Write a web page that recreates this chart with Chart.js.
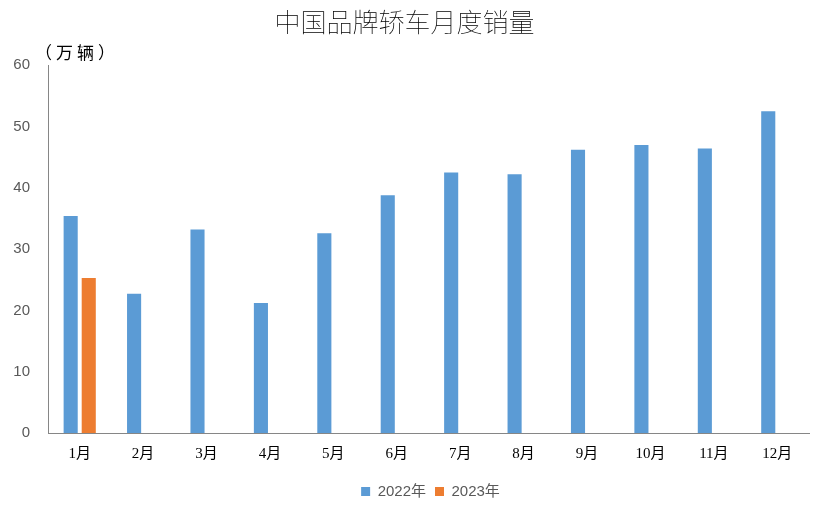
<!DOCTYPE html>
<html>
<head>
<meta charset="UTF-8">
<title>中国品牌轿车月度销量</title>
<script src="https://cdn.jsdelivr.net/npm/chart.js"></script>
<style>
  body { margin: 0; background: #fff; }
  #wrap { width: 826px; height: 507px; position: relative; }
</style>
</head>
<body>
<div id="wrap"><canvas id="salesChart"></canvas></div>
<script>
// data (万辆)
const months = ['1月', '2月', '3月', '4月', '5月', '6月', '7月', '8月', '9月', '10月', '11月', '12月'];
const sales2022 = [35.4, 22.7, 33.2, 21.2, 32.6, 38.8, 42.5, 42.2, 46.2, 47.0, 46.4, 52.5];
const sales2023 = [25.3, null, null, null, null, null, null, null, null, null, null, null];
const yTicks = [0, 10, 20, 30, 40, 50, 60];

// unit label above the y axis, and nudge the legend like the original
const extras = {
  id: 'extras',
  afterLayout(chart) {
    const lg = chart.legend;
    if (lg) {
      lg.left += 26;
      lg.right += 26;
      lg.top += 2;
      lg.bottom += 2;
    }
  },
  afterDraw(chart) {
    const ctx = chart.ctx;
    ctx.save();
    ctx.font = '17px "Noto Sans CJK SC"';
    ctx.letterSpacing = '4px';
    ctx.fillStyle = '#000';
    ctx.textBaseline = 'middle';
    ctx.textAlign = 'left';
    ctx.fillText('（万辆）', 35, 53);
    ctx.restore();
  }
};

const ctx = document.getElementById('salesChart').getContext('2d');
new Chart(ctx, {
  type: 'bar',
  data: {
    labels: months,
    datasets: [
      {
        label: '2022年',
        data: sales2022,
        backgroundColor: '#5B9BD5',
        categoryPercentage: 0.57,
        barPercentage: 0.78
      },
      {
        label: '2023年',
        data: sales2023,
        backgroundColor: '#ED7D31',
        categoryPercentage: 0.57,
        barPercentage: 0.78
      }
    ]
  },
  options: {
    responsive: true,
    maintainAspectRatio: false,
    animation: false,
    layout: { padding: { left: 0, right: 17, top: 0, bottom: 0 } },
    plugins: {
      title: {
        display: true,
        text: '中国品牌轿车月度销量',
        color: '#000',
        font: { family: '"Noto Sans CJK SC"', size: 26, weight: 'lighter' },
        padding: { top: 7, bottom: 27 }
      },
      legend: {
        position: 'bottom',
        labels: {
          boxWidth: 9,
          boxHeight: 9,
          color: '#595959',
          padding: 9,
          font: { family: '"Liberation Sans", "Noto Sans CJK SC"', size: 15 }
        }
      },
      tooltip: { enabled: false }
    },
    scales: {
      x: {
        afterFit(axis) { axis.height = 40; },
        grid: { display: false, drawTicks: false },
        border: { display: true, color: '#868686', width: 1 },
        ticks: {
          color: '#000',
          padding: 12,
          font: { family: '"Liberation Serif", "Noto Sans CJK SC"', size: 15 }
        }
      },
      y: {
        min: 0,
        max: 60,
        afterBuildTicks(axis) {
          axis.ticks = yTicks.map(v => ({ value: v }));
        },
        afterFit(axis) { axis.width = 48; },
        grid: { display: false, drawTicks: false },
        border: { display: true, color: '#868686', width: 1 },
        ticks: {
          color: '#595959',
          padding: 18,
          font: { family: '"Liberation Sans"', size: 15 }
        }
      }
    }
  },
  plugins: [extras]
});
</script>
</body>
</html>
